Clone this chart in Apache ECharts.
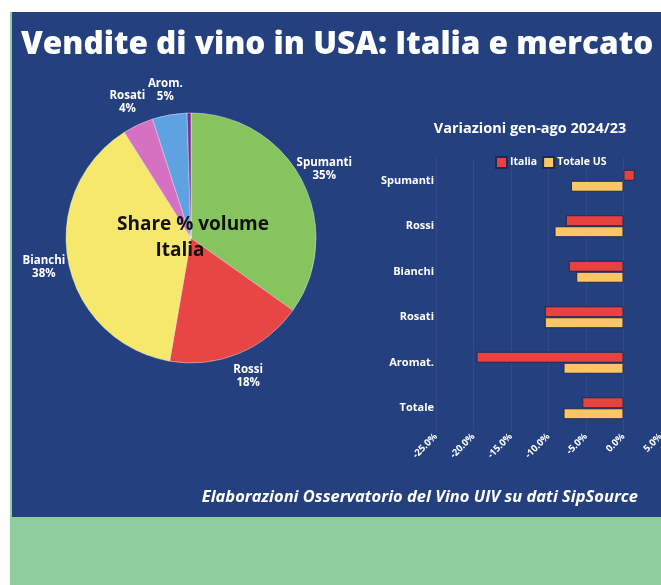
<!DOCTYPE html>
<html>
<head>
<meta charset="utf-8">
<script src="https://cdn.jsdelivr.net/npm/echarts@6/dist/echarts.min.js"></script>
<style>
  html, body { margin: 0; padding: 0; background: #ffffff; }
  #chart { width: 661px; height: 585px; }
</style>
</head>
<body>
<div id="chart"></div>
<script>
// quote del volume Italia (torta)
const shareNames = ['Spumanti', 'Rossi', 'Bianchi', 'Rosati', 'Arom.', ''];
const shareValues = [35, 18, 38.5, 4, 4.5, 0.5];
const shareLabels = ['35%', '18%', '38%', '4%', '5%', ''];
const shareColors = ['#86c55e', '#e84545', '#f6e86c', '#d670c0', '#5ea2e2', '#7a2f8e'];

// variazioni gen-ago 2024/23 (barre)
const categories = ['Spumanti', 'Rossi', 'Bianchi', 'Rosati', 'Aromat.', 'Totale'];
const italia = [1.5, -7.7, -7.3, -10.5, -19.6, -5.5];
const totaleUS = [-7.0, -9.2, -6.3, -10.5, -8.0, -8.0];
const xTicks = [-25, -20, -15, -10, -5, 0, 5];

const FONT = '"Open Sans", "Noto Sans", sans-serif';
const chart = echarts.init(document.getElementById('chart'), null, { renderer: 'canvas' });

const pieData = shareNames.map((n, i) => ({
  name: n,
  value: shareValues[i],
  itemStyle: { color: shareColors[i] }
}));

// stessa torta, trasparente e più grande: serve solo a centrare le etichette esterne
const labelData = shareNames.map((n, i) => ({
  name: n,
  value: shareValues[i],
  label: { show: n !== '' }
}));

const option = {
  backgroundColor: '#ffffff',
  animation: false,
  title: {
    text: 'Vendite di vino in USA: Italia e mercato',
    left: 21,
    top: 29,
    padding: 0,
    textStyle: { color: '#ffffff', fontFamily: FONT, fontWeight: 800, fontSize: 31.5 }
  },
  legend: {
    data: ['Italia', 'Totale US'],
    left: 495,
    top: 156,
    padding: 0,
    itemWidth: 11,
    itemHeight: 11,
    itemGap: 5,
    icon: 'rect',
    textStyle: { color: '#ffffff', fontFamily: FONT, fontWeight: 'bold', fontSize: 10.5, padding: [0, 0, 0, -2] }
  },
  graphic: [
    { type: 'rect', z: -10, silent: true, shape: { x: 10, y: 12, width: 651, height: 573 }, style: { fill: '#90cd9e' } },
    { type: 'rect', z: -9, silent: true, shape: { x: 12, y: 12, width: 649, height: 505 }, style: { fill: '#24407f' } },
    { type: 'text', z: 10, x: 193, y: 225, style: { text: 'Share % volume', fill: '#111111', font: 'bold 19px ' + FONT, align: 'center', verticalAlign: 'middle' } },
    { type: 'text', z: 10, x: 180, y: 251, style: { text: 'Italia', fill: '#111111', font: 'bold 19px ' + FONT, align: 'center', verticalAlign: 'middle' } },
    { type: 'text', z: 10, x: 530, y: 129, style: { text: 'Variazioni gen-ago 2024/23', fill: '#ffffff', font: 'bold 14.5px ' + FONT, align: 'center', verticalAlign: 'middle' } },
    { type: 'text', z: 10, x: 638, y: 497, style: { text: 'Elaborazioni Osservatorio del Vino UIV su dati SipSource', fill: '#ffffff', font: 'italic bold 16.5px ' + FONT, align: 'right', verticalAlign: 'middle' } }
  ],
  grid: { left: 436, width: 225, top: 158, height: 273, containLabel: false, outerBoundsMode: 'none' },
  xAxis: {
    type: 'value',
    min: -25,
    max: 5,
    interval: 5,
    axisLine: { show: false },
    axisTick: { show: false },
    splitLine: { show: true, lineStyle: { color: 'rgba(255,255,255,0.06)' } },
    axisLabel: {
      rotate: 45,
      margin: 4,
      color: '#ffffff',
      fontFamily: FONT,
      fontWeight: 'bold',
      fontSize: 9.5,
      formatter: v => xTicks.includes(v) ? v.toFixed(1) + '%' : ''
    }
  },
  yAxis: {
    type: 'category',
    data: categories,
    inverse: true,
    axisLine: { show: false },
    axisTick: { show: false },
    axisLabel: { margin: 2, color: '#ffffff', fontFamily: FONT, fontWeight: 'bold', fontSize: 11 }
  },
  series: [
    {
      type: 'pie',
      name: 'Share',
      center: [191, 238],
      radius: 125,
      startAngle: 90,
      clockwise: true,
      itemStyle: { borderColor: 'rgba(255,255,255,0.5)', borderWidth: 0.8 },
      label: { show: false },
      labelLine: { show: false },
      emphasis: { disabled: true },
      data: pieData
    },
    {
      type: 'pie',
      name: 'Etichette',
      center: [191, 238],
      radius: [134, 160],
      startAngle: 90,
      clockwise: true,
      silent: true,
      z: 1,
      itemStyle: { color: 'rgba(0,0,0,0)' },
      label: {
        position: 'inside',
        color: '#ffffff',
        fontFamily: FONT,
        fontWeight: 'bold',
        fontSize: 11.5,
        lineHeight: 13,
        formatter: p => p.name + '\n' + shareLabels[p.dataIndex],
        align: 'center'
      },
      labelLine: { show: false },
      emphasis: { disabled: true },
      data: labelData
    },
    {
      type: 'bar',
      name: 'Italia',
      data: italia,
      barWidth: 11,
      barGap: '0%',
      itemStyle: { color: '#e8423f', borderColor: '#1b2b57', borderWidth: 1 }
    },
    {
      type: 'bar',
      name: 'Totale US',
      data: totaleUS,
      barWidth: 11,
      barGap: '0%',
      itemStyle: { color: '#fcc566', borderColor: '#1b2b57', borderWidth: 1 }
    }
  ]
};

chart.setOption(option);
</script>
</body>
</html>
